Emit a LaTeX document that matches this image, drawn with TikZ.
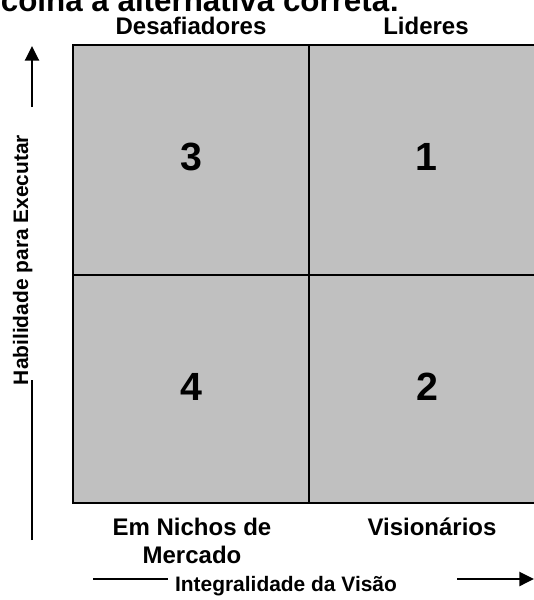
\documentclass[tikz,border=0pt]{standalone}
\usepackage{fontspec}
\setmainfont{Liberation Sans}
\usetikzlibrary{arrows.meta}
\definecolor{cellgray}{HTML}{C0C0C0}
\tikzset{
  lab/.style={font=\fontsize{18}{20}\selectfont\bfseries, anchor=base, inner sep=0pt, align=center},
  axislab/.style={font=\fontsize{15.7}{18}\selectfont\bfseries, anchor=base, inner sep=0pt},
  num/.style={font=\fontsize{29.5}{32}\selectfont\bfseries, inner sep=0pt},
  axisline/.style={line width=1.8pt},
  axisarrow/.style={line width=1.8pt, -{Triangle[length=11pt,width=10.5pt]}},
  gridline/.style={line width=1.5pt}
}
\begin{document}
\begin{tikzpicture}[x=0.75pt,y=-0.75pt]
\useasboundingbox (0,0) rectangle (534,600);
% clipped question line
\node[font=\fontsize{23.5}{26}\selectfont\bfseries, anchor=base east, inner sep=0pt] (q) at (400,11) {Escolha a alternativa correta:};
% matrix
\fill[cellgray] (73,45) rectangle (545,503);
\draw[gridline] (73,45) rectangle (545,503);
\coordinate (vt) at (309,45);
\coordinate (vb) at (309,503);
\coordinate (hl) at (73,274.5);
\coordinate (hr) at (545,274.5);
\draw[gridline] (vt) -- (vb);
\draw[gridline] (hl) -- (hr);
% numbers
\node[num] (n3) at (191,157) {3};
\node[num] (n1) at (426,157) {1};
\node[num] (n4) at (191,387) {4};
\node[num] (n2) at (427,387) {2};
% quadrant labels
\node[lab] (des) at (191,34) {Desafiadores};
\node[lab] (lid) at (426,34) {Lideres};
\node[lab] (nic) at (192,535) {Em Nichos de};
\node[lab] (mer) at (192,563) {Mercado};
\node[lab] (vis) at (432,535) {Visionários};
% vertical axis
\node[axislab, rotate=90] (hab) at (28,260) {Habilidade para Executar};
\coordinate (va1) at (32,107);
\coordinate (va2) at (32,46);
\coordinate (vl1) at (32,540);
\coordinate (vl2) at (32,380);
\draw[axisarrow] (va1) -- (va2);
\draw[axisline] (vl1) -- (vl2);
% horizontal axis
\node[axislab] (int) at (286,591) {Integralidade da Visão};
\coordinate (hl1) at (93,579);
\coordinate (hl2) at (168,579);
\coordinate (ha1) at (457,579);
\coordinate (ha2) at (534,579);
\draw[axisline] (hl1) -- (hl2);
\draw[axisarrow] (ha1) -- (ha2);
\end{tikzpicture}
\end{document}
